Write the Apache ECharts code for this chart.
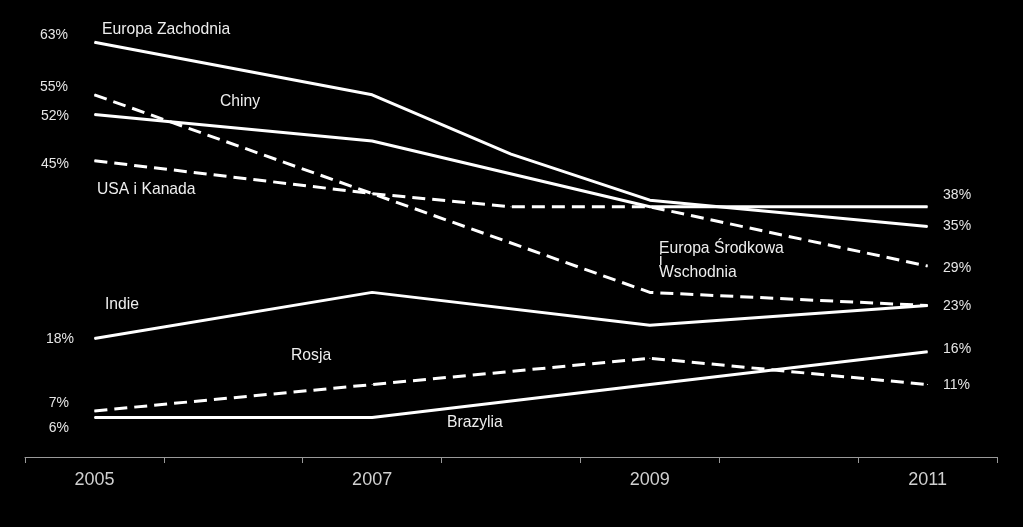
<!DOCTYPE html>
<html>
<head>
<meta charset="utf-8">
<script src="https://cdn.jsdelivr.net/npm/echarts@6/dist/echarts.min.js"></script>
<style>
html,body{margin:0;padding:0;background:#000;}
#chart{width:1023px;height:527px;}
</style>
</head>
<body>
<div id="chart"></div>
<script>
// Categories (years); labels shown for every other year
const years = ['2005', '2006', '2007', '2008', '2009', '2010', '2011'];

// Series values (%), null = no data point for that year
const europaZachodnia = [63, null, 55, 46, 39, null, 35];
const chiny = [52, null, 48, null, 38, null, 38];
const usaKanada = [45, null, 40, 38, 38, null, 29];
const europaSrodkowa = [55, null, 40, null, 25, null, 23];
const indie = [18, null, 25, null, 20, null, 23];
const rosja = [7, null, 11, null, 15, null, 11];
const brazylia = [6, null, 6, null, 11, null, 16];

const seriesNames = ['Europa Zachodnia', 'Chiny', 'USA i Kanada', 'Europa Środkowa i Wschodnia', 'Indie', 'Rosja', 'Brazylia'];
const seriesValues = [europaZachodnia, chiny, usaKanada, europaSrodkowa, indie, rosja, brazylia];
const dashedFlags = [false, false, true, true, false, true, false];

// label styling: [dx, dy] shifts for start and end value labels (null = no end label)
const startShift = [[-1, -7], [0, 2], [0, 3], [-1, -8], [5, 1], [0, -8], [0, 11]];
const endShift = [[0, 0], [0, -12], [0, 2], null, [0, 1], [0, 1], [0, -3]];

const valueLabelStyle = { color: '#e6e6e6', fontSize: 14, fontFamily: 'Liberation Sans, Arial, sans-serif' };

function buildData(vals, i) {
  const last = vals.length - 1;
  return vals.map((v, j) => {
    if (v === null) return null;
    if (j === 0) {
      return { value: v, label: Object.assign({ show: true, position: 'left', distance: 25, formatter: p => p.value + '%' }, valueLabelStyle) };
    }
    if (j === last && endShift[i]) {
      return { value: v, label: Object.assign({ show: true, position: 'right', distance: 15, formatter: p => p.value + '%' }, valueLabelStyle) };
    }
    return v;
  });
}

const series = seriesValues.map((vals, i) => ({
  name: seriesNames[i],
  type: 'line',
  data: buildData(vals, i),
  connectNulls: true,
  showSymbol: true,
  symbol: 'circle',
  symbolSize: 1,
  itemStyle: { color: '#ffffff' },
  clip: false,
  silent: true,
  lineStyle: { color: '#ffffff', width: 3, type: dashedFlags[i] ? [13, 7] : 'solid' },
  label: { show: false },
  labelLayout: function (p) {
    const s = p.dataIndex === 0 ? startShift[i] : endShift[i];
    return s ? { dx: s[0], dy: s[1], hideOverlap: false } : {};
  }
}));

const nameFont = '15.7px "Liberation Sans", Arial, sans-serif';
function nameText(text, x, y, lh) {
  return { type: 'text', x: x, y: y, silent: true,
    style: { text: text, fill: '#eeeeee', font: nameFont, textVerticalAlign: 'middle', lineHeight: lh || 17 } };
}

const chart = echarts.init(document.getElementById('chart'));
chart.setOption({
  backgroundColor: '#000000',
  animation: false,
  grid: { left: 25, right: 26, top: 29, bottom: 70, containLabel: false },
  xAxis: {
    type: 'category',
    data: years,
    boundaryGap: true,
    axisLine: { lineStyle: { color: '#9a9a9a', width: 1 } },
    axisTick: { show: true, interval: 0, length: 6, lineStyle: { color: '#9a9a9a' } },
    axisLabel: { interval: 1, color: '#d0d0d0', fontSize: 18, margin: 14, fontFamily: 'Liberation Sans, Arial, sans-serif' },
    splitLine: { show: false }
  },
  yAxis: {
    type: 'value', min: 0, max: 65, show: false, splitLine: { show: false }
  },
  series: series,
  graphic: [
    nameText('Europa Zachodnia', 102, 30),
    nameText('Chiny', 220, 102),
    nameText('USA i Kanada', 97, 190),
    nameText('Europa Środkowa\ni\nWschodnia', 659, 261, 12),
    nameText('Indie', 105, 305),
    nameText('Rosja', 291, 356),
    nameText('Brazylia', 447, 423)
  ]
});
</script>
</body>
</html>
